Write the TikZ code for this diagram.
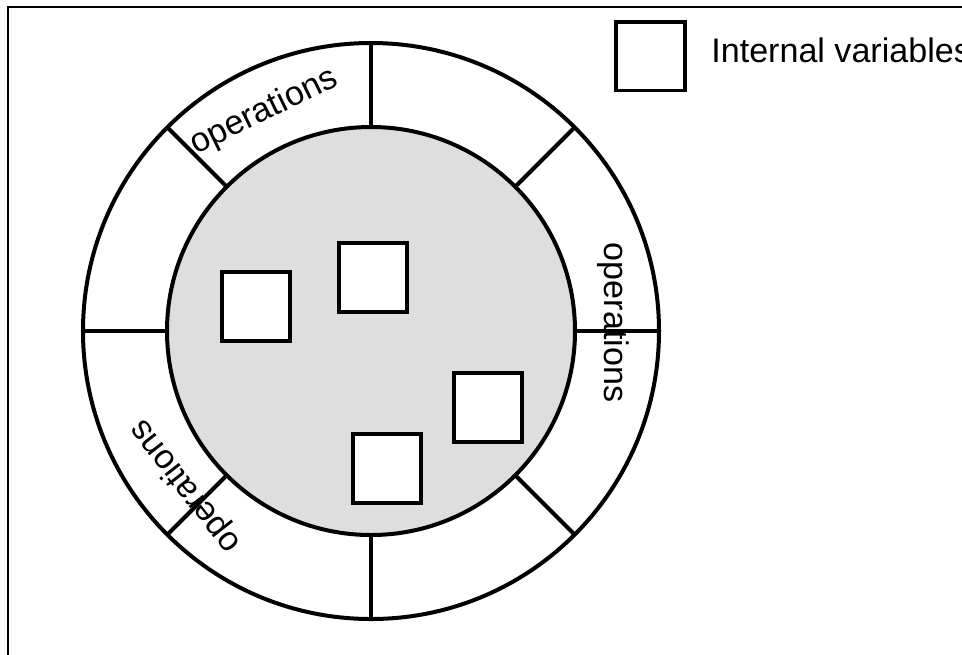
\documentclass[tikz,border=0pt]{standalone}
\usepackage{fontspec}
\setmainfont{Liberation Sans}
\usetikzlibrary{positioning}
\definecolor{coregray}{RGB}{222,222,222}
\tikzset{
  ring/.style={line width=0.08cm},
  varbox/.style={draw, fill=white, line width=0.08cm, minimum size=1.38cm, inner sep=0pt},
  oplabel/.style={font=\fontsize{19.4}{23}\selectfont, inner sep=0pt}
}
\begin{document}
\begin{tikzpicture}[x=0.02cm,y=0.02cm]
 	\useasboundingbox (-371,-323) rectangle (591,331);
 	\draw[line width=0.04cm] (-363,324) rectangle (600,-330);
 	\draw[ring] (0,0) circle (288);
 	\filldraw[ring, fill=coregray] (0,0) circle (204);
 	\foreach \a in {0,45,...,315}
 	  \draw[ring] (\a:204) -- (\a:288);
 	\node[varbox] (var1) at (-115,25) {};
 	\node[varbox] (var2) at (2,54) {};
 	\node[varbox] (var3) at (117,-76) {};
 	\node[varbox] (var4) at (16,-137) {};
 	\node[oplabel, rotate=26] (opTop) at (116:244) {operations};
 	\node[oplabel, rotate=-90] (opRight) at (2:242) {operations};
 	\node[oplabel, rotate=128] (opLeft) at (220:242) {operations};
 	\node[varbox] (legbox) at (279,275) {};
 	\node[oplabel, anchor=base west] (legtext) at (340,269) {Internal variables};
\end{tikzpicture}
\end{document}
